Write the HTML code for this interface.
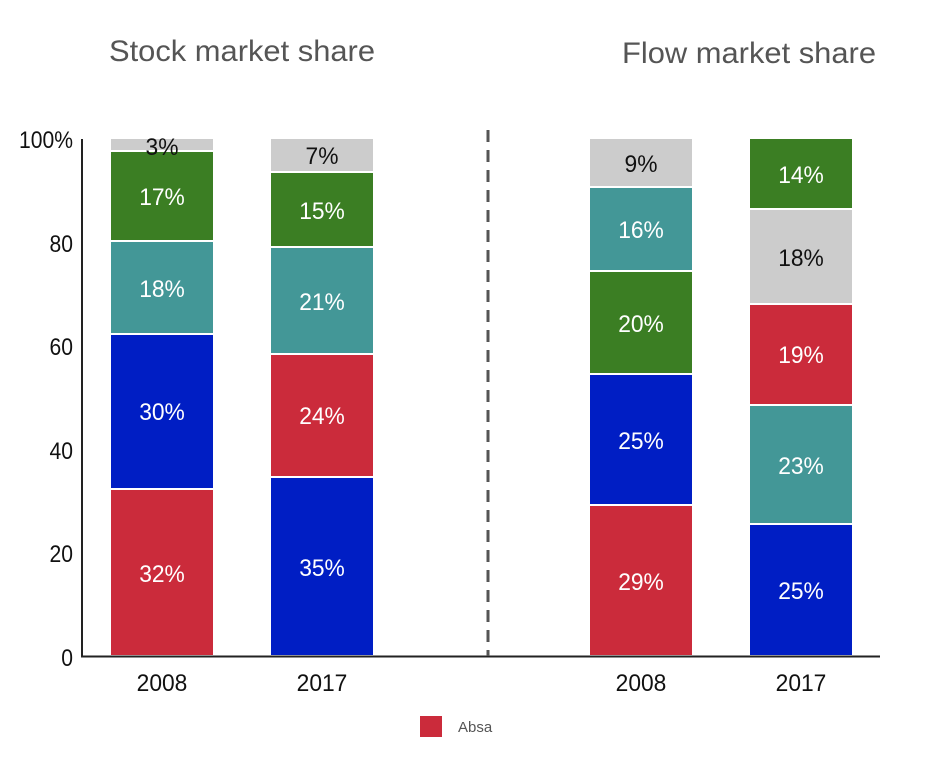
<!DOCTYPE html>
<html><head><style>
html,body{margin:0;padding:0;background:#fff;}
svg text{font-family:"Liberation Sans",sans-serif;}
</style></head><body>
<svg width="936" height="754" viewBox="0 0 936 754" xmlns="http://www.w3.org/2000/svg">
<text x="242" y="61" font-size="30" fill="#555" text-anchor="middle" textLength="266" lengthAdjust="spacingAndGlyphs">Stock market share</text>
<text x="749" y="63" font-size="30" fill="#555" text-anchor="middle" textLength="254" lengthAdjust="spacingAndGlyphs">Flow market share</text>
<g stroke="#fff" stroke-width="2">
<rect x="110" y="489" width="104" height="167" fill="#cb2b3b"/>
<rect x="110" y="334" width="104" height="155" fill="#001ec4"/>
<rect x="110" y="241" width="104" height="93" fill="#439797"/>
<rect x="110" y="151" width="104" height="90" fill="#3b7e23"/>
<rect x="110" y="138" width="104" height="13" fill="#cccccc"/>
<rect x="270" y="477" width="104" height="179" fill="#001ec4"/>
<rect x="270" y="354" width="104" height="123" fill="#cb2b3b"/>
<rect x="270" y="247" width="104" height="107" fill="#439797"/>
<rect x="270" y="172" width="104" height="75" fill="#3b7e23"/>
<rect x="270" y="138" width="104" height="34" fill="#cccccc"/>
<rect x="589" y="505" width="104" height="151" fill="#cb2b3b"/>
<rect x="589" y="374" width="104" height="131" fill="#001ec4"/>
<rect x="589" y="271" width="104" height="103" fill="#3b7e23"/>
<rect x="589" y="187" width="104" height="84" fill="#439797"/>
<rect x="589" y="138" width="104" height="49" fill="#cccccc"/>
<rect x="749" y="524" width="104" height="132" fill="#001ec4"/>
<rect x="749" y="405" width="104" height="119" fill="#439797"/>
<rect x="749" y="304" width="104" height="101" fill="#cb2b3b"/>
<rect x="749" y="209" width="104" height="95" fill="#cccccc"/>
<rect x="749" y="138" width="104" height="71" fill="#3b7e23"/>
</g>
<g font-size="24" text-anchor="middle" fill="#fff">
<g transform="translate(162,0) scale(0.95,1)">
<text x="0" y="582">32%</text><text x="0" y="420">30%</text><text x="0" y="297">18%</text><text x="0" y="205">17%</text><text x="0" y="155" fill="#111">3%</text></g>
<g transform="translate(322,0) scale(0.95,1)">
<text x="0" y="576">35%</text><text x="0" y="424">24%</text><text x="0" y="310">21%</text><text x="0" y="219">15%</text><text x="0" y="164" fill="#111">7%</text></g>
<g transform="translate(641,0) scale(0.95,1)">
<text x="0" y="590">29%</text><text x="0" y="449">25%</text><text x="0" y="332">20%</text><text x="0" y="238">16%</text><text x="0" y="172" fill="#111">9%</text></g>
<g transform="translate(801,0) scale(0.95,1)">
<text x="0" y="599">25%</text><text x="0" y="474">23%</text><text x="0" y="363">19%</text><text x="0" y="266" fill="#111">18%</text><text x="0" y="183">14%</text></g>
</g>
<line x1="82" y1="139" x2="82" y2="657" stroke="#222" stroke-width="2"/>
<line x1="81" y1="656.5" x2="880" y2="656.5" stroke="#222" stroke-width="2"/>
<line x1="488" y1="130" x2="488" y2="656" stroke="#555" stroke-width="3" stroke-dasharray="12,8"/>
<g font-size="24" text-anchor="end" fill="#111" transform="translate(73,0) scale(0.88,1)">
<text x="0" y="148">100%</text><text x="0" y="252">80</text><text x="0" y="355">60</text><text x="0" y="459">40</text><text x="0" y="562">20</text><text x="0" y="666">0</text>
</g>
<g font-size="24" text-anchor="middle" fill="#111">
<text transform="translate(162,691) scale(0.95,1)">2008</text><text transform="translate(322,691) scale(0.95,1)">2017</text><text transform="translate(641,691) scale(0.95,1)">2008</text><text transform="translate(801,691) scale(0.95,1)">2017</text>
</g>
<rect x="420" y="716" width="22" height="21" fill="#cb2b3b"/>
<text x="458" y="732" font-size="15" fill="#555">Absa</text>
</svg>
</body></html>
